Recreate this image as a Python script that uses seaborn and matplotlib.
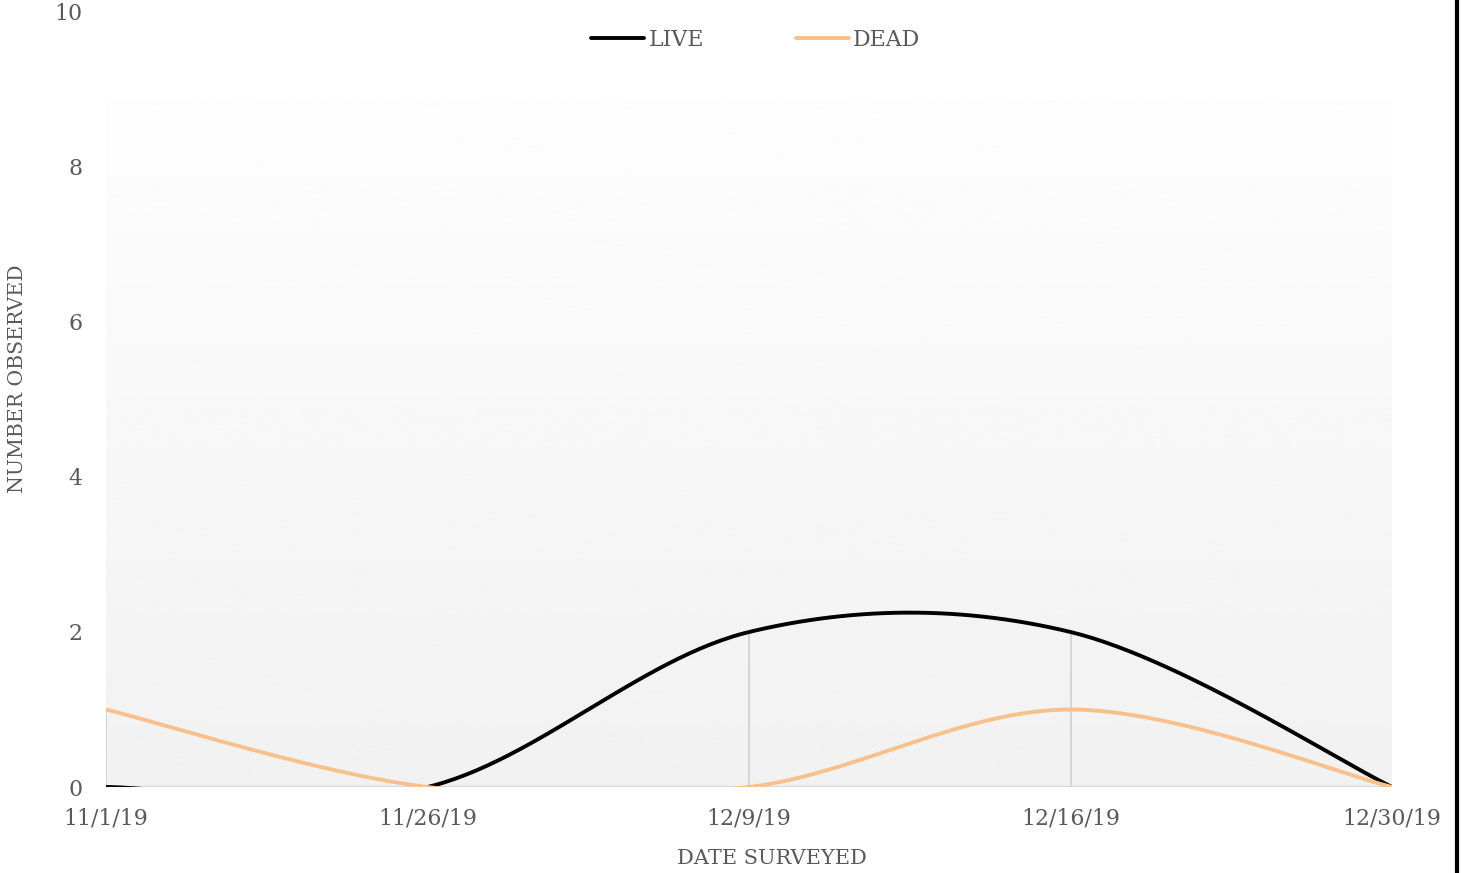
import matplotlib
matplotlib.use('Agg')
import matplotlib.pyplot as plt
from matplotlib.lines import Line2D
import numpy as np
import pandas as pd
import seaborn as sns

# chart data
dates = ['11/1/19', '11/26/19', '12/9/19', '12/16/19', '12/30/19']
live = [0, 0, 2, 2, 0]
dead = [1, 0, 0, 1, 0]
y_ticks = [0, 2, 4, 6, 8, 10]

GREY = '#595959'
FONT = 'DejaVu Serif'


def smooth(values, steps=60):
    """Excel-like smoothed line (Catmull-Rom bezier, tension 1/6)."""
    pts = np.column_stack([np.arange(len(values)), np.asarray(values, float)])
    padded = np.vstack([pts[0], pts, pts[-1]])
    out = []
    t = np.linspace(0, 1, steps)[:, None]
    for i in range(len(pts) - 1):
        p0, p3 = padded[i + 1], padded[i + 2]
        c1 = p0 + (padded[i + 2] - padded[i]) / 6
        c2 = p3 - (padded[i + 3] - padded[i + 1]) / 6
        seg = ((1 - t) ** 3) * p0 + 3 * ((1 - t) ** 2) * t * c1 + 3 * (1 - t) * t ** 2 * c2 + t ** 3 * p3
        out.append(seg if i == 0 else seg[1:])
    out = np.vstack(out)
    return out[:, 0], out[:, 1]


sns.set_style('white')
plt.rcParams['font.family'] = [FONT, 'DejaVu Sans']

fig = plt.figure(figsize=(14.61, 8.73), dpi=100)
ax = fig.add_axes([0.0726, 0.0985, 0.9528 - 0.0726, 0.9863 - 0.0985])

n = len(dates)
ax.set_xlim(0, n - 1)
ax.set_ylim(0, 10)

# gradient plot area background
grad = np.linspace(0.945, 0.994, 256)[:, None]
ax.imshow(grad, cmap='gray', vmin=0, vmax=1, aspect='auto', origin='lower',
          extent=[0, n - 1, 0, 8.87], zorder=0, interpolation='bicubic')

# drop lines
tops = np.maximum(live, dead)
ax.vlines(np.arange(n), 0, tops, color='#d0d0d0', lw=1.2, zorder=1)
ax.axhline(0, color='#d9d9d9', lw=1.5, zorder=1)

frames = []
for name, vals in [('LIVE', live), ('DEAD', dead)]:
    xs, ys = smooth(vals)
    frames.append(pd.DataFrame({'x': xs, 'y': ys, 'series': name}))
df = pd.concat(frames, ignore_index=True)

sns.lineplot(data=df, x='x', y='y', hue='series', sort=False,
             palette={'LIVE': '#000000', 'DEAD': '#f8c08c'},
             lw=2.8, ax=ax, legend=False, zorder=3, estimator=None)

for line in ax.lines:
    line.set_solid_capstyle('round')

for s in ax.spines.values():
    s.set_visible(False)

ax.set_xticks(range(n))
ax.set_xticklabels(dates)
ax.set_yticks(y_ticks)
ax.tick_params(axis='both', length=0, labelsize=15.8, colors=GREY)
ax.tick_params(axis='x', pad=15)
ax.tick_params(axis='y', pad=17)
ax.set_xlabel('')
ax.set_ylabel('')

fig.text(772 / 1461, 1 - 859 / 873, 'DATE SURVEYED', ha='center', va='center',
         fontsize=15, color=GREY)
fig.text(18 / 1461, 1 - 379 / 873, 'NUMBER OBSERVED', ha='center', va='center',
         rotation=90, fontsize=14.7, color=GREY)

handles = [Line2D([], [], color='#000000', lw=2.8),
           Line2D([], [], color='#f8c08c', lw=2.8)]
fig.legend(handles, ['LIVE', 'DEAD'], loc='center', bbox_to_anchor=(756 / 1461, 1 - 40 / 873),
           ncol=2, frameon=False, fontsize=15.8, labelcolor=GREY,
           handlelength=2.4, handletextpad=0.2, columnspacing=4.2)

# right-hand black border bar
fig.add_artist(Line2D([1456.5 / 1461] * 2, [0, 1], color='black', lw=3, transform=fig.transFigure))

fig.savefig('out.png', dpi=100)
